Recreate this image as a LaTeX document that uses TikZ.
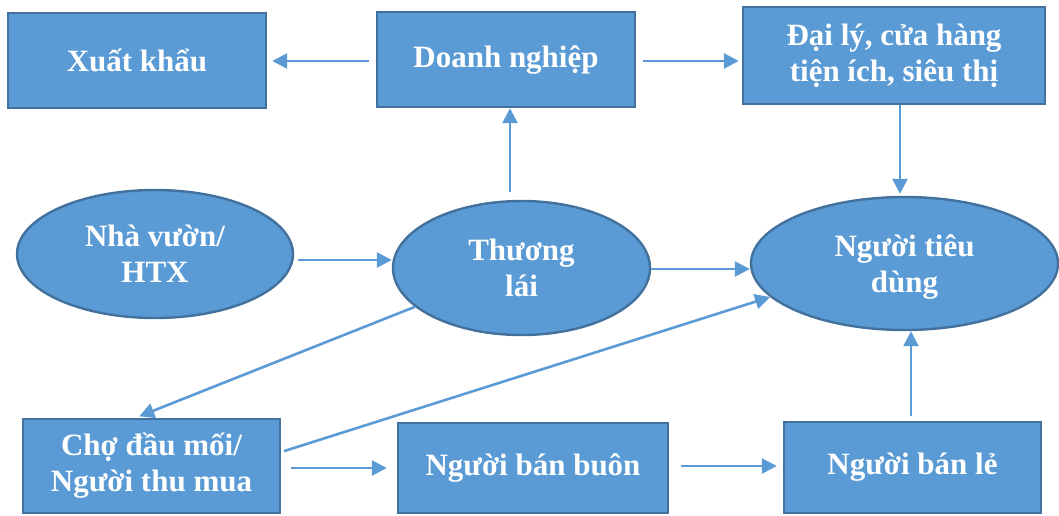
\documentclass[tikz,border=0pt]{standalone}
\usepackage{fontspec}
\setmainfont{Liberation Serif}
\usepackage{tikz}
\usetikzlibrary{arrows.meta,calc,shapes.geometric}
\definecolor{XanhHop}{RGB}{91,155,213}
\definecolor{VienHop}{RGB}{65,113,156}
\tikzset{
  hop/.style={rectangle,draw=VienHop,fill=XanhHop,line width=2.4pt,inner sep=0pt,
    text=white,align=center,font=\fontsize{31}{36}\selectfont\bfseries},
  elip/.style={hop,ellipse,text depth=0pt},
  mui/.style={->,line width=2.6pt,draw=XanhHop}
}

\begin{document}
\begin{tikzpicture}[>={Triangle[length=15pt,width=15pt]},x=1pt,y=-1pt]
  \useasboundingbox (0,0) rectangle (1059,515);
  % hang tren
  \node[hop,minimum width=258pt,minimum height=95pt] (xk) at (137,60.5) {Xuất khẩu};
  \node[hop,minimum width=258pt,minimum height=95pt] (dn) at (506,59.5) {Doanh nghiệp};
  \node[hop,minimum width=302pt,minimum height=97pt] (dl) at (894,55.5) {Đại lý, cửa hàng\\tiện ích, siêu thị};
  % hang giua
  \node[elip,minimum width=276pt,minimum height=128pt] (nv) at (155,254) {Nhà vườn/\\HTX};
  \node[elip,minimum width=257pt,minimum height=134pt] (tl) at (521.5,268) {Thương\\lái};
  \node[elip,minimum width=307pt,minimum height=133pt] (ntd) at (904.5,263.5) {Người tiêu\\dùng};
  % hang duoi
  \node[hop,minimum width=257pt,minimum height=94pt] (cho) at (151.5,466) {Chợ đầu mối/\\Người thu mua};
  \node[hop,minimum width=270pt,minimum height=90pt] (bb) at (533,468) {Người bán buôn};
  \node[hop,minimum width=257pt,minimum height=91pt] (bl) at (912.5,467.5) {Người bán lẻ};

  \draw[mui,shorten <=7pt,shorten >=5pt] ([yshift=-1.5pt]dn.west) -- ([yshift=-1.5pt]dn.west -| xk.east);
  \draw[mui,shorten <=7pt,shorten >=3pt] ([yshift=-1.5pt]dn.east) -- ([yshift=-1.5pt]dn.east -| dl.west);
  \draw[mui,shorten <=8pt] ([xshift=-11.5pt]tl.north) -- ([xshift=-11.5pt]tl.north |- dn.south);
  \draw[mui,shorten >=2pt] ([xshift=6pt]dl.south) -- ([xshift=6pt]dl.south |- ntd.north);
  \draw[mui,shorten <=4pt] ([yshift=-6pt]nv.east) -- ([yshift=-6pt]nv.east -| tl.west);
  \draw[mui] ([yshift=-1pt]tl.east) -- ([yshift=-1pt]tl.east -| ntd.west);
  \draw[mui,shorten >=4pt] (tl.200) -- ([xshift=-16pt]cho.north);
  \draw[mui,shorten <=3pt] ([yshift=14pt]cho.east) -- (ntd.194);
  \draw[mui,shorten <=10pt,shorten >=10pt] ([yshift=-2pt]cho.east) -- ([yshift=-2pt]cho.east -| bb.west);
  \draw[mui,shorten <=12pt,shorten >=6pt] ([yshift=2pt]bb.east) -- ([yshift=2pt]bb.east -| bl.west);
  \draw[mui,shorten <=5pt] ([xshift=-1.5pt]bl.north) -- ([xshift=-1.5pt]bl.north |- ntd.south);
\end{tikzpicture}
\end{document}
